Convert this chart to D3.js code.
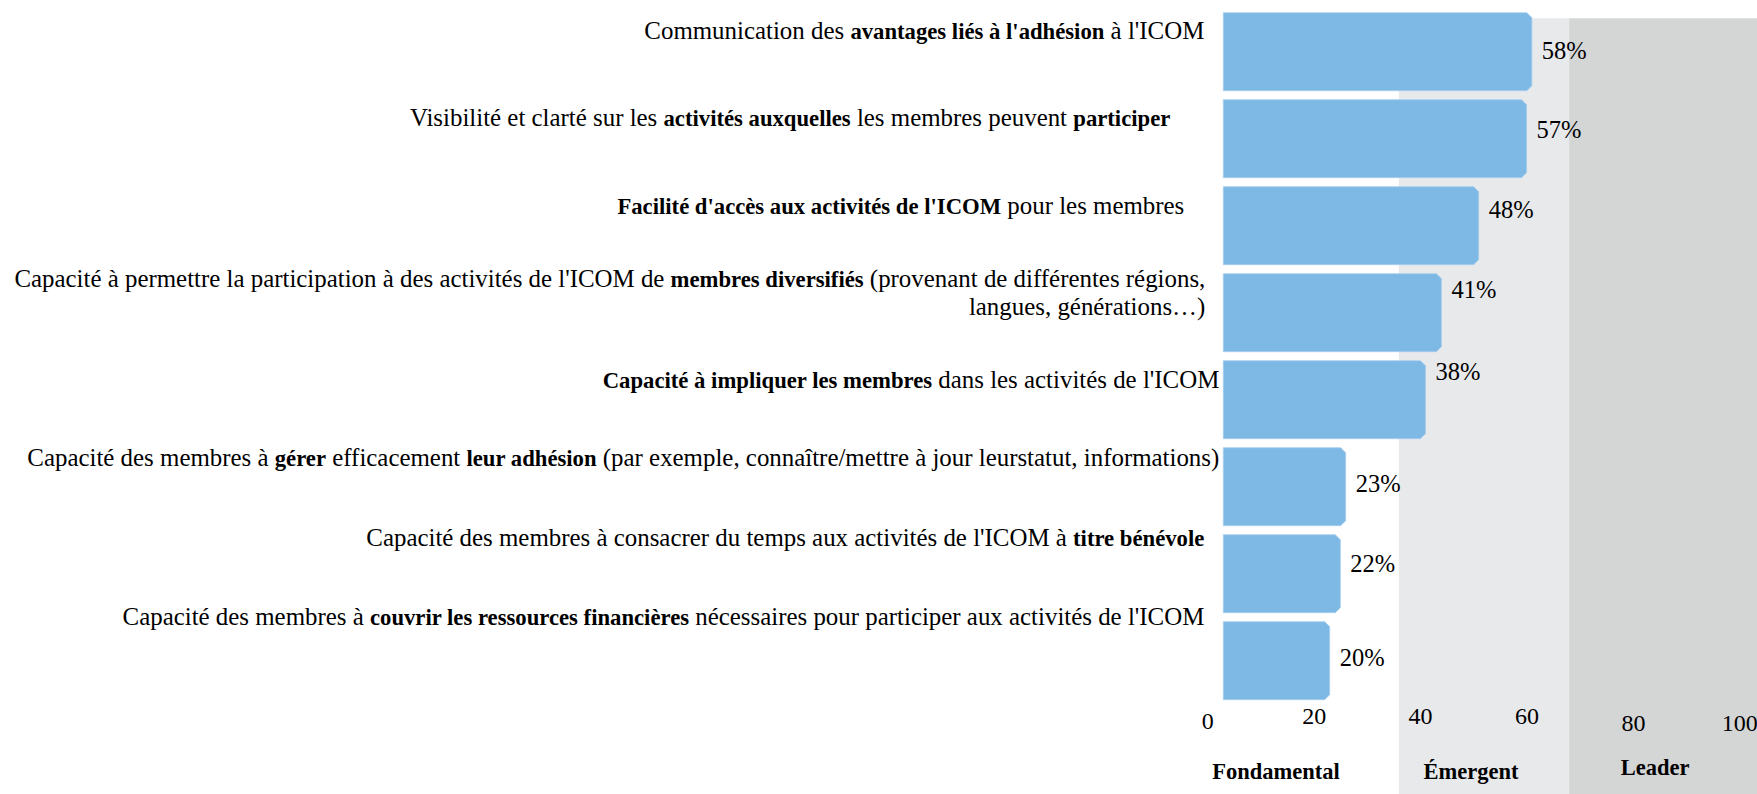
<!DOCTYPE html>
<html>
<head>
<meta charset="utf-8">
<script src="https://cdn.jsdelivr.net/npm/d3@7"></script>
<style>
  body { margin: 0; background: #fff; }
  svg { display: block; }
  text { font-family: "Liberation Serif", Tinos, "Times New Roman", serif; fill: #000; }
</style>
</head>
<body>
<script>
// taille du dessin
var w = 1757;
var h = 794;

// données : libellés (les parties en gras entre **), valeurs en %
var categories = [
  "Communication des **avantages liés à l'adhésion** à l'ICOM",
  "Visibilité et clarté sur les **activités auxquelles** les membres peuvent **participer**",
  "**Facilité d'accès aux activités de l'ICOM** pour les membres",
  "Capacité à permettre la participation à des activités de l'ICOM de **membres diversifiés** (provenant de différentes régions,\nlangues, générations…)",
  "**Capacité à impliquer les membres** dans les activités de l'ICOM",
  "Capacité des membres à **gérer** efficacement **leur adhésion** (par exemple, connaître/mettre à jour leurstatut, informations)",
  "Capacité des membres à consacrer du temps aux activités de l'ICOM à **titre bénévole**",
  "Capacité des membres à **couvrir les ressources financières** nécessaires pour participer aux activités de l'ICOM"
];
var values = [58, 57, 48, 41, 38, 23, 22, 20];
var tickValues = [0, 20, 40, 60, 80, 100];
var levelNames = ["Fondamental", "Émergent", "Leader"];
var levelBounds = [0, 33, 65, 100];

// mise en page (décalages repris de l'image d'origine)
var labelGap = [19, 53, 39, 18, 4, 4, 19, 19];      // écart libellé -> début des barres
var labelDy = [26.6, 25.8, 27, 13, 27.6, 18.3, 11.3, 3.3];
var valueDy = [46.3, 38.6, 31.6, 24.3, 19.3, 44, 37.6, 44];
var tickDy = [5, 0, 0, 0, 7, 7];
var levelNudge = [-35, -13, -7];
var levelBaseline = [779, 779, 775];
var barColor = "#7eb9e6";
var bandColors = ["#ffffff", "#e8e9eb", "#d4d5d5"];

var svg = d3.select("body").append("svg").attr("width", w).attr("height", h);

// échelles
var xScale = d3.scaleLinear().domain([0, 100]).range([1223.3, 1755.3]);
var yScale = d3.scaleBand()
  .domain(d3.range(values.length))
  .range([12.7, 699.7])
  .paddingInner(9 / 87);

// bandes de fond (niveaux)
svg.selectAll(".band")
  .data(levelNames)
  .enter()
  .append("rect")
  .attr("class", "band")
  .attr("x", function (d, i) { return xScale(levelBounds[i]); })
  .attr("y", 18.3)
  .attr("width", function (d, i) {
    var right = i === levelNames.length - 1 ? w : xScale(levelBounds[i + 1]);
    return right - xScale(levelBounds[i]);
  })
  .attr("height", h - 18.3)
  .attr("fill", function (d, i) { return bandColors[i]; });

// barres avec coins droits coupés
function barPath(x, y, bw, bh) {
  var c = 5;
  return "M" + x + "," + y +
    "H" + (x + bw - c) +
    "L" + (x + bw) + "," + (y + c) +
    "V" + (y + bh - c) +
    "L" + (x + bw - c) + "," + (y + bh) +
    "H" + x + "Z";
}

svg.selectAll(".bar")
  .data(values)
  .enter()
  .append("path")
  .attr("class", "bar")
  .attr("d", function (d, i) {
    return barPath(xScale(0), yScale(i), xScale(d) - xScale(0), yScale.bandwidth());
  })
  .attr("fill", barColor)
  .attr("stroke", "#a6cdee")
  .attr("stroke-width", 0.8);

// valeurs
svg.selectAll(".value")
  .data(values)
  .enter()
  .append("text")
  .attr("class", "value")
  .attr("x", function (d) { return xScale(d) + 10; })
  .attr("y", function (d, i) { return yScale(i) + valueDy[i]; })
  .style("font-size", "24.5px")
  .text(function (d) { return d + "%"; });

// libellés des catégories, avec parties en gras
var labels = svg.selectAll(".label")
  .data(categories)
  .enter()
  .append("text")
  .attr("class", "label")
  .attr("text-anchor", "end")
  .style("font-size", "24.9px")
  .attr("y", function (d, i) { return yScale(i) + labelDy[i]; });

labels.each(function (d, i) {
  var t = d3.select(this);
  var xr = xScale(0) - labelGap[i];
  d.split("\n").forEach(function (line, li) {
    var parts = line.split("**");
    parts.forEach(function (p, pi) {
      if (p === "") return;
      var ts = t.append("tspan").text(p);
      if (pi % 2 === 1) ts.style("font-weight", "bold").style("font-size", "22.7px");
      if (pi === 0 || (pi === 1 && parts[0] === "")) {
        ts.attr("x", xr);
        if (li > 0) ts.attr("dy", 28.5);
      }
    });
  });
});

// axe
var xAxis = d3.axisBottom(xScale).tickValues(tickValues).tickSize(0).tickPadding(0);
var axisG = svg.append("g")
  .attr("class", "axis")
  .attr("transform", "translate(-16,724)")
  .call(xAxis);
axisG.select(".domain").remove();
axisG.selectAll("text")
  .attr("y", function (d, i) { return tickDy[i]; })
  .attr("dy", 0)
  .attr("fill", "#000")
  .style("font-size", "24px");

// noms des niveaux
svg.selectAll(".level")
  .data(levelNames)
  .enter()
  .append("text")
  .attr("class", "level")
  .attr("text-anchor", "middle")
  .style("font-weight", "bold")
  .style("font-size", "22.5px")
  .attr("x", function (d, i) {
    return (xScale(levelBounds[i]) + xScale(levelBounds[i + 1])) / 2 + levelNudge[i];
  })
  .attr("y", function (d, i) { return levelBaseline[i]; })
  .text(function (d) { return d; });
</script>
</body>
</html>
